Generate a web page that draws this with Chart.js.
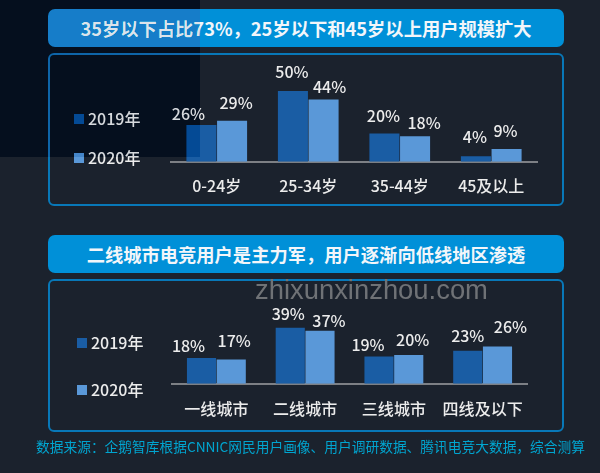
<!DOCTYPE html>
<html lang="zh">
<head>
<meta charset="utf-8">
<title>电竞用户画像</title>
<script src="https://cdn.jsdelivr.net/npm/chart.js@4/dist/chart.umd.min.js"></script>
<style>
  html, body { margin: 0; padding: 0; background: #1b222d; }
  body { width: 600px; height: 473px; position: relative; overflow: hidden; font-family: "Noto Sans CJK SC", "Noto Sans", sans-serif; color: #ececec; }
  .title { position: absolute; left: 48px; width: 516px; height: 38px; line-height: 38px; background: #0090d8; border-radius: 7px; color: #f2f6fa; font-size: 18.3px; font-weight: 700; text-align: center; }
  .panel { position: absolute; left: 48px; width: 512px; height: 149px; border: 2px solid #0878b8; border-radius: 6px; }
  canvas { position: absolute; left: 48px; }
  .swatch { position: absolute; width: 10px; height: 10px; }
  .legend-text { position: absolute; font-size: 16px; font-weight: 500; line-height: 20px; white-space: nowrap; }
  #source { position: absolute; left: 36px; top: 436px; font-size: 13.72px; line-height: 20px; color: #00a5d0; white-space: nowrap; }
  #watermark { position: absolute; left: 255px; top: 276px; font-family: "Liberation Sans", sans-serif; font-size: 27.4px; line-height: 28px; color: #6f7276; white-space: nowrap; }
  #corner { position: absolute; left: 0; top: 0; width: 200px; height: 157px; background: rgb(22, 19, 15); mix-blend-mode: difference; }
</style>
</head>
<body>
<div class="title" style="top:9px">35岁以下占比73%，25岁以下和45岁以上用户规模扩大</div>
<div class="panel" style="top:53px"></div>
<div class="title" style="top:235px">二线城市电竞用户是主力军，用户逐渐向低线地区渗透</div>
<div class="panel" style="top:279px"></div>
<canvas id="ageChart" width="516" height="168" style="top:53px"></canvas>
<canvas id="cityChart" width="516" height="169" style="top:279px"></canvas>
<div id="watermark">zhixunxinzhou.com</div>
<div id="source">数据来源：企鹅智库根据CNNIC网民用户画像、用户调研数据、腾讯电竞大数据，综合测算</div>
<div id="corner"></div>
<script>
const seriesNames = ['2019年', '2020年'];
const ageLabels = ['0-24岁', '25-34岁', '35-44岁', '45及以上'];
const age2019 = [26, 50, 20, 4];
const age2020 = [29, 44, 18, 9];
const cityLabels = ['一线城市', '二线城市', '三线城市', '四线及以下'];
const city2019 = [18, 39, 19, 23];
const city2020 = [17, 37, 20, 26];

const COLOR_2019 = '#1a5da4';
const COLOR_2020 = '#5a98d8';
const TEXT_COLOR = '#ececec';
const FONT = '"Noto Sans CJK SC", "Noto Sans", sans-serif';

// the labels in the original were placed by hand, so each one gets a small shift [dx, dy]
const ageShift = [
  [[-13, 7], [-1, -1], [-1, 0], [-1, -1]],
  [[4, 0], [6, 5], [9, 5], [-1, 0]]
];
const cityShift = [
  [[-13, 6], [-2, 4], [-11, 6], [0, 3]],
  [[3, 0], [9, 8], [4, 3], [13, -2]]
];

const valueLabels = {
  id: 'valueLabels',
  afterDatasetsDraw(chart, args, opts) {
    const ctx = chart.ctx;
    ctx.save();
    ctx.font = '500 16px ' + FONT;
    ctx.fillStyle = TEXT_COLOR;
    ctx.textAlign = 'center';
    ctx.textBaseline = 'middle';
    chart.data.datasets.forEach((ds, i) => {
      chart.getDatasetMeta(i).data.forEach((bar, j) => {
        const shift = opts.shift[i][j];
        ctx.fillText(ds.data[j] + '%', bar.x + shift[0], bar.y - 18 + shift[1]);
      });
    });
    ctx.restore();
  }
};

function drawChart(id, labels, first, second, shift, yMax, padding, tickPadding) {
  new Chart(document.getElementById(id), {
    type: 'bar',
    data: {
      labels: labels,
      datasets: [
        { label: seriesNames[0], data: first, backgroundColor: COLOR_2019 },
        { label: seriesNames[1], data: second, backgroundColor: COLOR_2020 }
      ]
    },
    options: {
      responsive: false,
      animation: false,
      layout: { padding: padding },
      datasets: { bar: { categoryPercentage: 0.67, barPercentage: 0.98 } },
      plugins: {
        legend: { display: false },
        tooltip: { enabled: false },
        valueLabels: { shift: shift }
      },
      scales: {
        x: {
          grid: { display: false, drawTicks: false },
          border: { color: '#7d8085', width: 2 },
          ticks: { color: TEXT_COLOR, padding: tickPadding, font: { size: 16, weight: '500', family: FONT }, maxRotation: 0, autoSkip: false }
        },
        y: { display: false, min: 0, max: yMax }
      }
    },
    plugins: [valueLabels]
  });
}

drawChart('ageChart', ageLabels, age2019, age2020, ageShift, 70,
  { left: 123, right: 27, top: 9.6, bottom: 10 }, 15);
drawChart('cityChart', cityLabels, city2019, city2020, cityShift, 60,
  { left: 124, right: 37, top: 18.6, bottom: 13 }, 16);

// legends sit in the panels, same names as the datasets
function addLegend(swatchX, textX, rows) {
  rows.forEach((y, i) => {
    const swatch = document.createElement('div');
    swatch.className = 'swatch';
    swatch.style.left = swatchX + 'px';
    swatch.style.top = (y - 4) + 'px';
    swatch.style.background = i === 0 ? COLOR_2019 : COLOR_2020;
    document.body.insertBefore(swatch, document.getElementById('corner'));
    const text = document.createElement('div');
    text.className = 'legend-text';
    text.textContent = seriesNames[i];
    text.style.left = textX + 'px';
    text.style.top = (y - 10) + 'px';
    document.body.insertBefore(text, document.getElementById('corner'));
  });
}
addLegend(74, 88, [118, 157]);
addLegend(77, 91, [342, 389]);
</script>
</body>
</html>
